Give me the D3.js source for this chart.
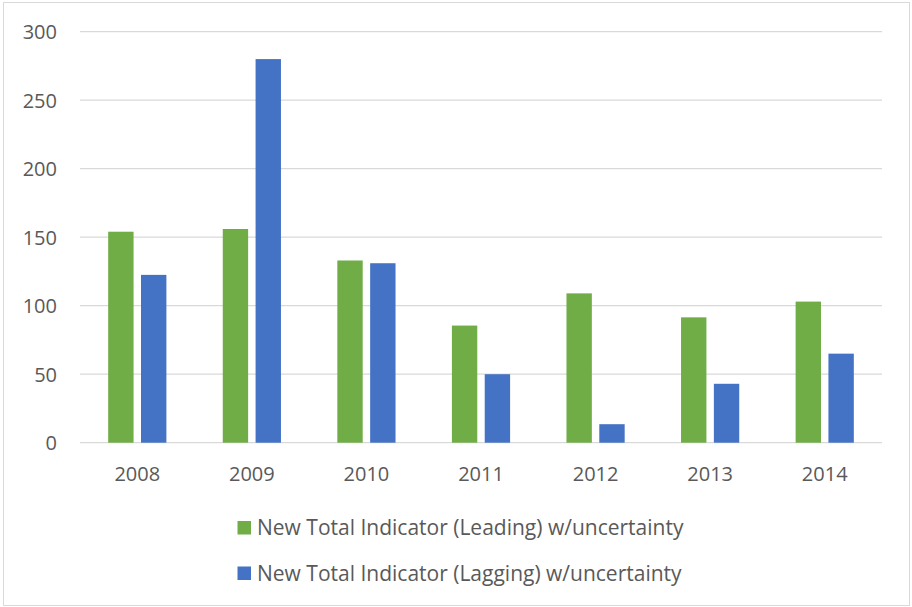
<!DOCTYPE html>
<html>
<head>
<meta charset="utf-8">
<script src="https://cdn.jsdelivr.net/npm/d3@7/dist/d3.min.js"></script>
<style>
  html, body { margin: 0; padding: 0; background: #fff; }
  svg { display: block; }
  text { font-family: "Open Sans", "Liberation Sans", sans-serif; fill: #595959; }
</style>
</head>
<body>
<svg id="chart" width="912" height="607"></svg>
<script>
const categories = ["2008", "2009", "2010", "2011", "2012", "2013", "2014"];
const leading = [154, 156, 133, 85.5, 109, 91.5, 103];
const lagging = [122.5, 280, 131, 50, 13.5, 43, 65];
const seriesNames = ["New Total Indicator (Leading) w/uncertainty", "New Total Indicator (Lagging) w/uncertainty"];
const seriesColors = ["#70AD47", "#4472C4"];
const yTicks = [0, 50, 100, 150, 200, 250, 300];

const svg = d3.select("#chart");

// chart border
svg.append("rect").attr("x", 3.5).attr("y", 2.5).attr("width", 906).attr("height", 603)
  .attr("fill", "#fff").attr("stroke", "#D9D9D9").attr("stroke-width", 1);

const plot = { left: 80, right: 882, top: 31.7, bottom: 442.7 };

const x = d3.scaleBand().domain(categories).range([plot.left, plot.right]).paddingInner(0).paddingOuter(0);
const y = d3.scaleLinear().domain([0, 300]).range([plot.bottom, plot.top]);

// gridlines
svg.append("g").selectAll("line").data(yTicks).join("line")
  .attr("x1", plot.left).attr("x2", plot.right)
  .attr("y1", d => y(d)).attr("y2", d => y(d))
  .attr("stroke", "#D9D9D9").attr("stroke-width", 1.3);

// y axis labels
const yAxis = d3.axisLeft(y).tickValues(yTicks).tickSize(0).tickPadding(0);
const gy = svg.append("g").attr("transform", `translate(57,0)`).call(yAxis);
gy.select(".domain").remove();
gy.selectAll("text").style("font-size", "20px").attr("fill", "#595959")
  .style("font-family", '"Open Sans", "Liberation Sans", sans-serif').attr("dy", "0.35em");

// x axis labels
const xAxis = d3.axisBottom(x).tickSize(0).tickPadding(0);
const gx = svg.append("g").attr("transform", `translate(0,${plot.bottom})`).call(xAxis);
gx.select(".domain").remove();
gx.selectAll("text").style("font-size", "20px").attr("fill", "#595959")
  .style("font-family", '"Open Sans", "Liberation Sans", sans-serif').attr("dy", 0).attr("y", 38);

// bars: two series per category, grouped by an inner band scale
const barW = 25.8, gap = 6.6;
const inner = d3.scaleBand().domain([0, 1])
  .range([-(barW + gap / 2), barW + gap / 2])
  .paddingInner(gap / (barW + gap / 2));
const bars = svg.append("g");
categories.forEach((c, i) => {
  const cx = x(c) + x.bandwidth() / 2;
  [leading[i], lagging[i]].forEach((v, s) => {
    bars.append("rect")
      .attr("x", cx + inner(s)).attr("width", inner.bandwidth())
      .attr("y", y(v)).attr("height", y(0) - y(v))
      .attr("fill", seriesColors[s]);
  });
});

// legend
const lg = svg.append("g");
seriesNames.forEach((name, i) => {
  const yy = 535 + i * 45.5;
  lg.append("rect").attr("x", 237.5).attr("y", yy - 14).attr("width", 13.5).attr("height", 13.5)
    .attr("fill", seriesColors[i]);
  lg.append("text").attr("x", 257).attr("y", yy).style("font-size", "21px").text(name);
});
</script>
</body>
</html>
